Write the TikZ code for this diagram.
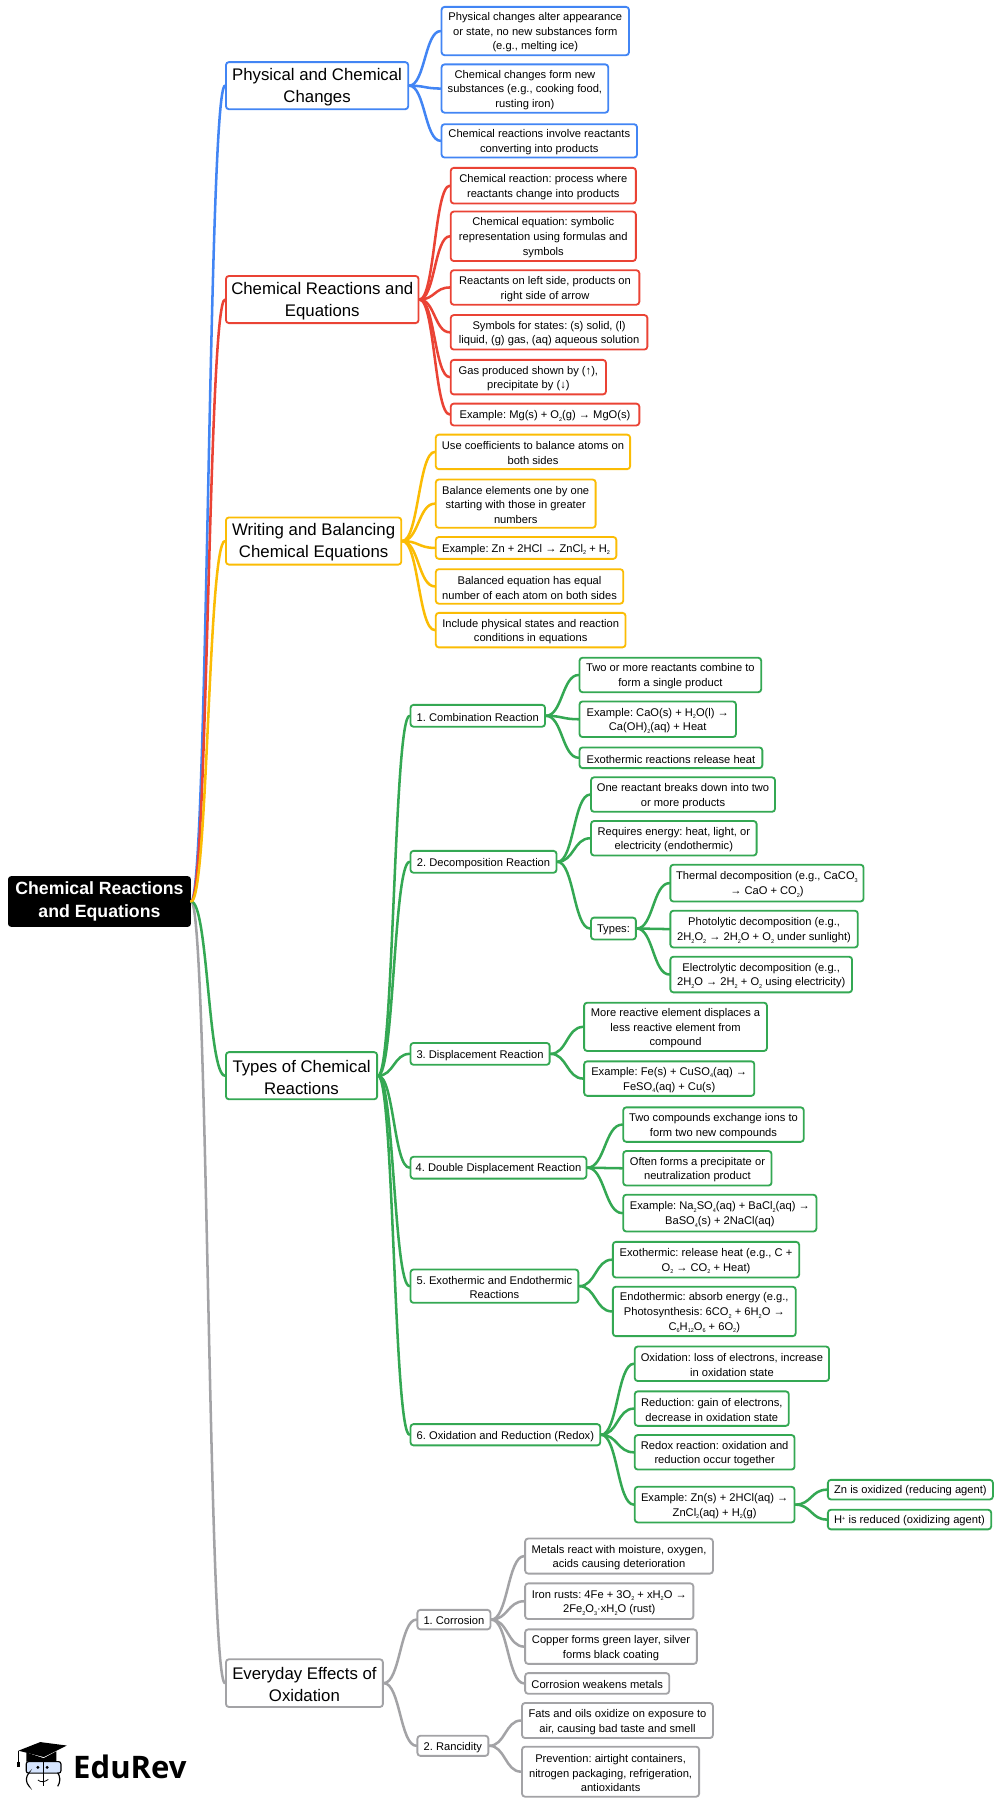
\documentclass[tikz,border=0pt]{standalone}
\usepackage{fontspec}
\setmainfont{Liberation Sans}
\newfontfamily\logofont{Open Sans}
\usetikzlibrary{calc}
\definecolor{cblue}{HTML}{4285F4}
\definecolor{cred}{HTML}{EA4335}
\definecolor{cyel}{HTML}{FBBC04}
\definecolor{cgrn}{HTML}{34A853}
\definecolor{cgry}{HTML}{A3A3A6}
\newcommand{\lo}[1]{\raisebox{-0.42ex}{\fontsize{4.8}{5}\selectfont #1}}
\newcommand{\hi}[1]{\raisebox{0.6ex}{\fontsize{4.8}{5}\selectfont #1}}
\newcommand{\toppad}{}
\tikzset{
  x=1pt,y=-1pt,
  boxbase/.style={draw=#1,fill=white,line width=1.6pt,rounded corners=2.6pt,inner sep=0pt,align=center,text=black,anchor=center},
  leaf/.style={boxbase=#1,font=\fontsize{9.7}{12.7}\selectfont\frenchspacing\renewcommand{\toppad}{\rule{0pt}{9.4pt}}},
  major/.style={boxbase=#1,font=\fontsize{14.6}{19}\selectfont\frenchspacing\renewcommand{\toppad}{\rule{0pt}{13pt}}},
  link/.style={line width=2.2pt,line cap=round}
}
% \bx{style}{name}{x0}{y0}{x1}{y1}{text}
\newcommand{\bx}[7]{%
  \pgfmathsetmacro{\cxx}{(#3+#5)/2}\pgfmathsetmacro{\cyy}{(#4+#6)/2}%
  \pgfmathsetmacro{\wdd}{#5-#3}\pgfmathsetmacro{\htt}{#6-#4}%
  \node[#1,minimum width=\wdd pt,minimum height=\htt pt] (#2) at (\cxx,\cyy) {\toppad #7};}
% \cn{colour}{from}{to}
\newcommand{\cn}[3]{\draw[link,draw=#1] (#2.east) .. controls ($(#2.east)!0.5!(#2.east-|#3.west)$) and ($(#3.west)!0.5!(#3.west-|#2.east)$) .. (#3.west);}
\begin{document}
\begin{tikzpicture}
\useasboundingbox (0,0) rectangle (870,1568);
% root
\node[fill=black,text=white,rounded corners=2.6pt,inner sep=0pt,align=center,minimum width=159pt,minimum height=44pt,font=\fontsize{15.4}{20.3}\selectfont\bfseries] (root) at (86.5,784) {Chemical Reactions\\and Equations};
% Physical
\bx{major=cblue}{m1}{196.5}{54}{355}{95}{Physical and Chemical\\Changes}
\bx{leaf=cblue}{a1}{384}{6}{547}{48}{Physical changes alter appearance\\or state, no new substances form\\(e.g., melting ice)}
\bx{leaf=cblue}{a2}{384}{56}{529}{98}{Chemical changes form new\\substances (e.g., cooking food,\\rusting iron)}
\bx{leaf=cblue}{a3}{384}{108}{554}{137}{Chemical reactions involve reactants\\converting into products}
% Chemical
\bx{major=cred}{m2}{196.5}{240}{364}{281}{Chemical Reactions and\\Equations}
\bx{leaf=cred}{b1}{392}{146}{553}{177}{Chemical reaction: process where\\reactants change into products}
\bx{leaf=cred}{b2}{392}{184}{553}{227}{Chemical equation: symbolic\\representation using formulas and\\symbols}
\bx{leaf=cred}{b3}{392}{235}{556}{265}{Reactants on left side, products on\\right side of arrow}
\bx{leaf=cred}{b4}{392}{274}{563}{304}{Symbols for states: (s) solid, (l)\\liquid, (g) gas, (aq) aqueous solution}
\bx{leaf=cred}{b5}{392}{313}{527}{343}{Gas produced shown by (↑),\\precipitate by (↓)}
\bx{leaf=cred}{b6}{392}{351}{556}{370}{Example: Mg(s) + O\lo{2}(g) → MgO(s)}
% Writing
\bx{major=cyel}{m3}{196.5}{450}{349}{491}{Writing and Balancing\\Chemical Equations}
\bx{leaf=cyel}{c1}{379}{378}{548}{408}{Use coefficients to balance atoms on\\both sides}
\bx{leaf=cyel}{c2}{379}{417}{518}{459}{Balance elements one by one\\starting with those in greater\\numbers}
\bx{leaf=cyel}{c3}{379}{467}{536}{486}{Example: Zn + 2HCl → ZnCl\lo{2} + H\lo{2}}
\bx{leaf=cyel}{c4}{379}{495}{542}{525}{Balanced equation has equal\\number of each atom on both sides}
\bx{leaf=cyel}{c5}{379}{533}{544}{563}{Include physical states and reaction\\conditions in equations}
% Types
\bx{major=cgrn}{m4}{196.5}{915}{328}{956}{Types of Chemical\\Reactions}
\bx{leaf=cgrn}{d1}{357}{613}{474}{632}{1. Combination Reaction}
\bx{leaf=cgrn}{d2}{357}{740}{484}{759}{2. Decomposition Reaction}
\bx{leaf=cgrn}{d3}{357}{907}{478}{926}{3. Displacement Reaction}
\bx{leaf=cgrn}{d4}{357}{1006}{510}{1025}{4. Double Displacement Reaction}
\bx{leaf=cgrn}{d5}{357}{1104}{503}{1133}{5. Exothermic and Endothermic\\Reactions}
\bx{leaf=cgrn}{d6}{357}{1238.5}{522}{1257}{6. Oxidation and Reduction (Redox)}
\bx{leaf=cgrn}{e1}{504}{572}{662}{602}{Two or more reactants combine to\\form a single product}
\bx{leaf=cgrn}{e2}{504}{610}{640}{641}{Example: CaO(s) + H\lo{2}O(l) →\\Ca(OH)\lo{2}(aq) + Heat}
\bx{leaf=cgrn}{e3}{504}{650}{663}{668}{Exothermic reactions release heat}
\bx{leaf=cgrn}{f1}{514}{676}{674}{706}{One reactant breaks down into two\\or more products}
\bx{leaf=cgrn}{f2}{514}{714}{658}{744}{Requires energy: heat, light, or\\electricity (endothermic)}
\bx{leaf=cgrn}{f3}{514}{798}{553}{817}{Types:}
\bx{leaf=cgrn}{g1}{583}{752}{751}{784}{Thermal decomposition (e.g., CaCO\lo{3}\\→ CaO + CO\lo{2})}
\bx{leaf=cgrn}{g2}{583}{792}{746}{824}{Photolytic decomposition (e.g.,\\2H\lo{2}O\lo{2} → 2H\lo{2}O + O\lo{2} under sunlight)}
\bx{leaf=cgrn}{g3}{583}{832}{741}{863}{Electrolytic decomposition (e.g.,\\2H\lo{2}O → 2H\lo{2} + O\lo{2} using electricity)}
\bx{leaf=cgrn}{h1}{508}{872}{667}{914}{More reactive element displaces a\\less reactive element from\\compound}
\bx{leaf=cgrn}{h2}{508}{923}{656}{953}{Example: Fe(s) + CuSO\lo{4}(aq) →\\FeSO\lo{4}(aq) + Cu(s)}
\bx{leaf=cgrn}{i1}{542}{963}{699}{993}{Two compounds exchange ions to\\form two new compounds}
\bx{leaf=cgrn}{i2}{542}{1001}{671}{1031}{Often forms a precipitate or\\neutralization product}
\bx{leaf=cgrn}{i3}{542}{1039}{710}{1071}{Example: Na\lo{2}SO\lo{4}(aq) + BaCl\lo{2}(aq) →\\BaSO\lo{4}(s) + 2NaCl(aq)}
\bx{leaf=cgrn}{j1}{533}{1080}{695}{1111}{Exothermic: release heat (e.g., C +\\O\lo{2} → CO\lo{2} + Heat)}
\bx{leaf=cgrn}{j2}{533}{1119}{692}{1162}{Endothermic: absorb energy (e.g.,\\Photosynthesis: 6CO\lo{2} + 6H\lo{2}O →\\C\lo{6}H\lo{12}O\lo{6} + 6O\lo{2})}
\bx{leaf=cgrn}{k1}{552}{1171}{721}{1201}{Oxidation: loss of electrons, increase\\in oxidation state}
\bx{leaf=cgrn}{k2}{552}{1210}{686}{1240}{Reduction: gain of electrons,\\decrease in oxidation state}
\bx{leaf=cgrn}{k3}{552}{1248}{691}{1278}{Redox reaction: oxidation and\\reduction occur together}
\bx{leaf=cgrn}{k4}{552}{1293}{691}{1324}{Example: Zn(s) + 2HCl(aq) →\\ZnCl\lo{2}(aq) + H\lo{2}(g)}
\bx{leaf=cgrn}{l1}{720}{1287}{863.5}{1304}{Zn is oxidized (reducing agent)}
\bx{leaf=cgrn}{l2}{720}{1313}{862}{1330}{H\hi{+} is reduced (oxidizing agent)}
% Everyday
\bx{major=cgry}{m5}{196.5}{1443}{333}{1484.5}{Everyday Effects of\\Oxidation}
\bx{leaf=cgry}{n1}{363}{1400}{426.5}{1417}{1. Corrosion}
\bx{leaf=cgry}{n2}{363}{1509.5}{424.7}{1527}{2. Rancidity}
\bx{leaf=cgry}{o1}{456.7}{1338}{620}{1368.5}{Metals react with moisture, oxygen,\\acids causing deterioration}
\bx{leaf=cgry}{o2}{456.7}{1377}{603}{1408}{Iron rusts: 4Fe + 3O\lo{2} + xH\lo{2}O →\\2Fe\lo{2}O\lo{3}·xH\lo{2}O (rust)}
\bx{leaf=cgry}{o3}{456.7}{1417}{606}{1447}{Copper forms green layer, silver\\forms black coating}
\bx{leaf=cgry}{o4}{456.7}{1455}{582}{1473}{Corrosion weakens metals}
\bx{leaf=cgry}{p1}{454}{1481}{620}{1511.5}{Fats and oils oxidize on exposure to\\air, causing bad taste and smell}
\bx{leaf=cgry}{p2}{454}{1519}{608}{1562.5}{Prevention: airtight containers,\\nitrogen packaging, refrigeration,\\antioxidants}
% connectors
\foreach \t in {a1,a2,a3}{\cn{cblue}{m1}{\t}}
\foreach \t in {b1,b2,b3,b4,b5,b6}{\cn{cred}{m2}{\t}}
\foreach \t in {c1,c2,c3,c4,c5}{\cn{cyel}{m3}{\t}}
\foreach \t in {d1,d2,d3,d4,d5,d6}{\cn{cgrn}{m4}{\t}}
\foreach \t in {e1,e2,e3}{\cn{cgrn}{d1}{\t}}
\foreach \t in {f1,f2,f3}{\cn{cgrn}{d2}{\t}}
\foreach \t in {g1,g2,g3}{\cn{cgrn}{f3}{\t}}
\foreach \t in {h1,h2}{\cn{cgrn}{d3}{\t}}
\foreach \t in {i1,i2,i3}{\cn{cgrn}{d4}{\t}}
\foreach \t in {j1,j2}{\cn{cgrn}{d5}{\t}}
\foreach \t in {k1,k2,k3,k4}{\cn{cgrn}{d6}{\t}}
\foreach \t in {l1,l2}{\cn{cgrn}{k4}{\t}}
\foreach \t in {n1,n2}{\cn{cgry}{m5}{\t}}
\foreach \t in {o1,o2,o3,o4}{\cn{cgry}{n1}{\t}}
\foreach \t in {p1,p2}{\cn{cgry}{n2}{\t}}
\cn{cblue}{root}{m1}
\cn{cred}{root}{m2}
\cn{cgry}{root}{m5}
\cn{cgrn}{root}{m4}
\cn{cyel}{root}{m3}
% logo
\node[anchor=base west,inner sep=0pt,font=\fontsize{27}{27}\logofont\bfseries] (logo) at (63.5,1547) {EduRev};
\fill[black] (16,1522.5) -- (35,1515) -- (58,1518) -- (38,1528) -- cycle;
\fill[black] (23,1524) -- (38,1529) -- (49,1523) -- (49,1532) -- (23,1532) -- cycle;
\draw[black,line width=.7pt] (16,1522.5) -- (16,1532);
\fill[black] (14.6,1532) rectangle (17.4,1537);
\draw[black,line width=1pt,fill=cblue!22,rounded corners=2pt] (22.8,1532) rectangle (53,1542);
\draw[black,line width=1pt,rounded corners=3pt] (25,1542) -- (23,1544) -- (23,1551) -- (25,1553) (50.5,1553) -- (52,1551) -- (52,1544) -- (50.5,1542);
\fill[black] (33,1537) circle (1.4) (41,1537) circle (1.4);
\draw[black,line width=.8pt] (37.7,1532) -- (37.7,1553);
\draw[black,line width=.7pt] (33,1548) .. controls (35,1550) and (39,1550) .. (42,1547.5);
\end{tikzpicture}
\end{document}
